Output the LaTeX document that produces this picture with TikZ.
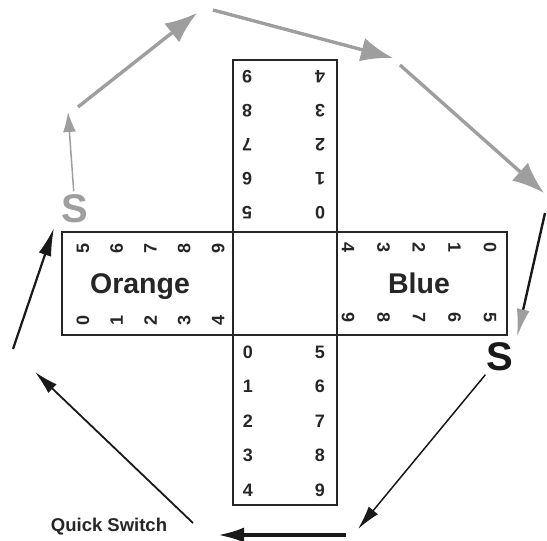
\documentclass[tikz,border=0pt]{standalone}
\usepackage{fontspec}
\setmainfont{Liberation Sans}
\usetikzlibrary{matrix, arrows.meta}
\definecolor{arrowgray}{HTML}{9E9E9E}

\begin{document}
\begin{tikzpicture}[x=1pt, y=1pt,
    box/.style={draw=black!85, line width=2pt, inner sep=0pt},
    digits/.style={matrix of nodes, nodes={anchor=center, inner sep=0pt, font=\fontsize{18}{18}\selectfont\bfseries, text=black!85}},
    teamname/.style={font=\fontsize{28.5}{28.5}\selectfont\bfseries, text=black!85, anchor=base},
    grayarrow/.style={arrowgray, line width=3.4pt, -{Latex[length=32pt, width=24pt]}},
    blackarrow/.style={black!90, line width=1.6pt, -{Latex[length=24pt, width=12pt]}}]
      \useasboundingbox (0,0) rectangle (547,-541);

      % the cross
      \node[box, minimum width=445pt, minimum height=103pt] (hbar) at (284.5,-283.5) {};
      \node[box, minimum width=104pt, minimum height=445pt] (vbar) at (285,-282.5) {};

      \matrix (botdigits)[digits, row sep={34.5pt,between origins}, column sep={72pt,between origins}] at (284,-421)
    {
       0 & 5\\ 1 & 6\\ 2 & 7\\ 3 & 8\\ 4 & 9\\
    };
      \matrix (topdigits)[digits, nodes={rotate=180}, row sep={34pt,between origins}, column sep={73pt,between origins}] at (283.5,-145)
    {
       9 & 4\\ 8 & 3\\ 7 & 2\\ 6 & 1\\ 5 & 0\\
    };
      \matrix (leftdigits)[digits, nodes={rotate=90}, row sep={72pt,between origins}, column sep={33.8pt,between origins}] at (150.5,-284)
    {
       5 & 6 & 7 & 8 & 9\\
       0 & 1 & 2 & 3 & 4\\
    };
      \matrix (rightdigits)[digits, nodes={rotate=-90}, row sep={70pt,between origins}, column sep={35.5pt,between origins}] at (419,-283)
    {
       4 & 3 & 2 & 1 & 0\\
       9 & 8 & 7 & 6 & 5\\
    };

      \node[teamname] (orange) at (140,-293) {Orange};
      \node[teamname] (blue) at (419,-293) {Blue};

      % the loop round the cross
      \node[font=\fontsize{40}{40}\selectfont\bfseries, text=arrowgray] (sgray) at (75,-209) {S};
      \node[font=\fontsize{40}{40}\selectfont\bfseries, text=black!90] (sblack) at (500,-357) {S};
      \node[font=\fontsize{18.5}{18.5}\selectfont\bfseries, text=black!85] (qswitch) at (109,-527) {Quick Switch};

      \coordinate (a1) at (68,-112);
      \coordinate (a2) at (78,-107);
      \coordinate (a3) at (197,-13);
      \coordinate (a4) at (213,-10);
      \coordinate (a5) at (393,-58);
      \coordinate (a6) at (400,-65);
      \coordinate (a7) at (544,-193);
      \coordinate (a8) at (545,-213);
      \coordinate (a9) at (517,-337);
      \coordinate (a10) at (358,-529);
      \coordinate (a11) at (346,-535);
      \coordinate (a12) at (218,-535);
      \coordinate (a13) at (193,-523);
      \coordinate (a14) at (35,-372);
      \coordinate (a15) at (13,-349);
      \coordinate (a16) at (54,-228);

      \draw[arrowgray, line width=1.5pt, -{Latex[length=20pt, width=13pt]}] (sgray) -- (a1);
      \draw[grayarrow] (a2) -- (a3);
      \draw[grayarrow] (a4) -- (a5);
      \draw[grayarrow] (a6) -- (a7);
      \draw[black!90, line width=2.4pt, -{Latex[length=28pt, width=13pt, color=arrowgray]}] (a8) -- (a9);
      \draw[blackarrow, line width=1.5pt] (sblack) -- (a10);
      \draw[blackarrow, line width=3.4pt, -{Latex[length=26pt, width=15pt]}] (a11) -- (a12);
      \draw[blackarrow, line width=1.8pt] (a13) -- (a14);
      \draw[blackarrow, line width=2.2pt, -{Latex[length=28pt, width=13pt]}] (a15) -- (a16);
\end{tikzpicture}
\end{document}
